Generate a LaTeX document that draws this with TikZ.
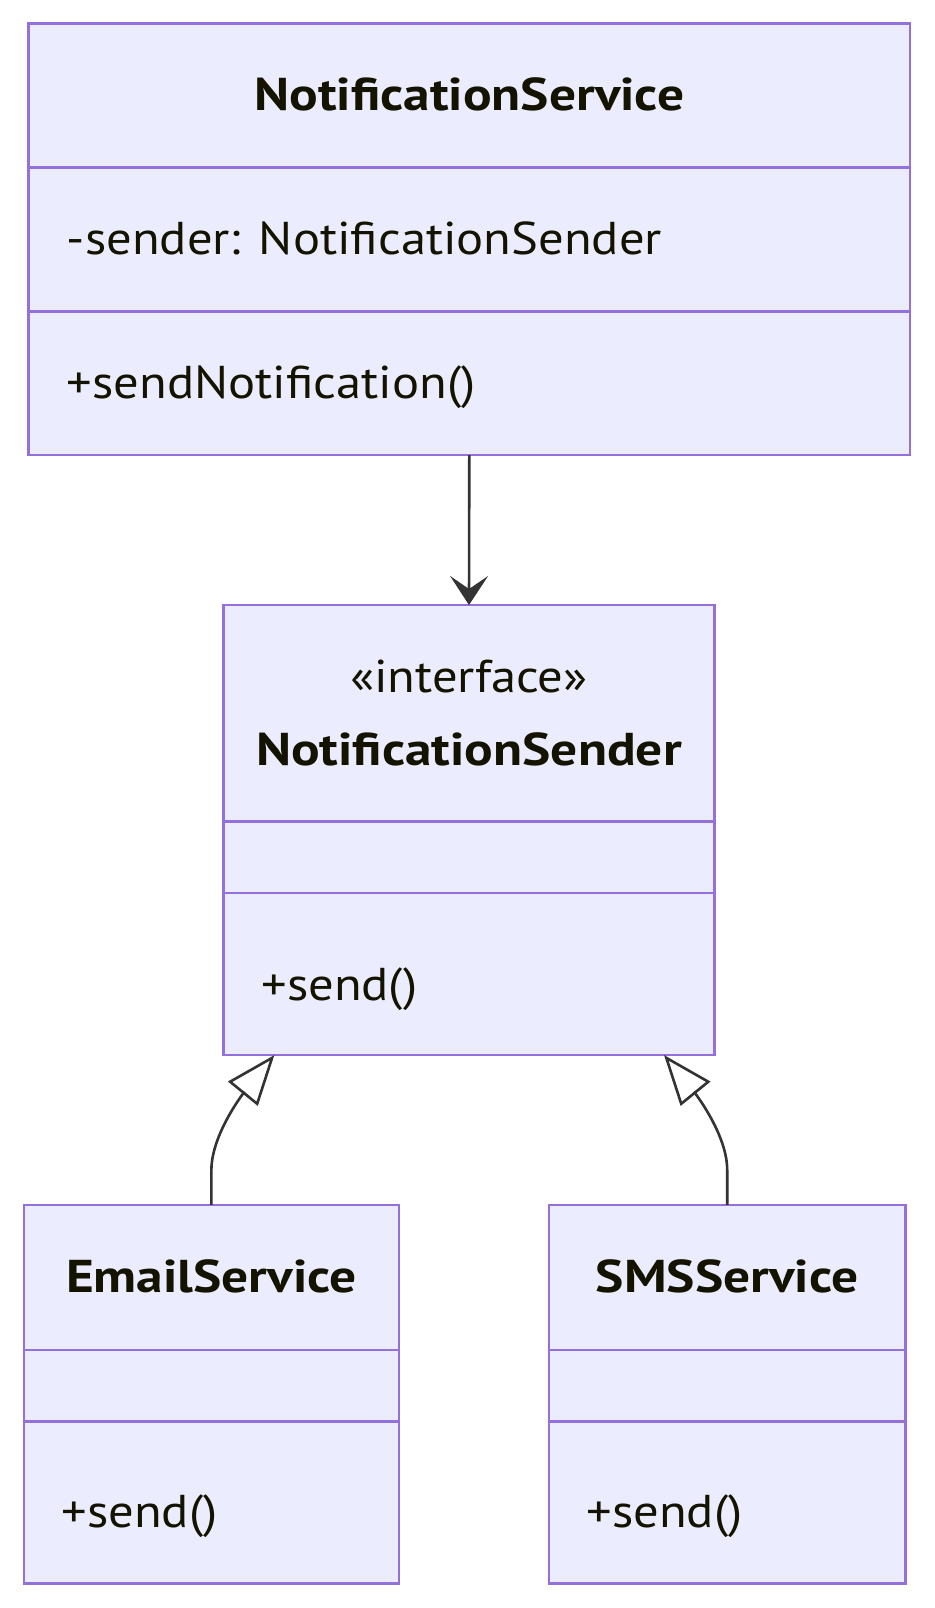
\documentclass[tikz,border=0pt]{standalone}
\usepackage{fontspec}
\setmainfont{PT Sans}[FakeStretch=1.1]
\newfontfamily\namefont{PT Sans}[FakeStretch=1.16]
\usetikzlibrary{arrows.meta,calc}
\definecolor{clsfill}{HTML}{ECECFF}
\definecolor{clsline}{HTML}{9370DB}
\definecolor{clstext}{HTML}{131300}
\definecolor{edgecol}{HTML}{333333}

\begin{document}
\begin{tikzpicture}[
  x=1pt, y=-1pt,
  cls/.style={draw=clsline, fill=clsfill, line width=2.6pt, inner sep=0pt, outer sep=0pt},
  divider/.style={draw=clsline, line width=2.6pt},
  clsname/.style={font=\fontsize{46}{55}\namefont\bfseries, text=clstext, inner sep=0pt, anchor=base},
  stereo/.style={font=\fontsize{46}{55}\selectfont, text=clstext, inner sep=0pt, anchor=base},
  member/.style={font=\fontsize{46}{55}\selectfont, text=clstext, inner sep=0pt, anchor=base west},
  assoc/.style={draw=edgecol, line width=2.6pt, -{Stealth[length=29pt,width=38pt,inset=13pt]}},
  inherit/.style={draw=edgecol, line width=2.6pt, -{Triangle[open,length=50pt,width=38pt]}}
]
\useasboundingbox (0,0) rectangle (934,1608);
\fill[white] (0,0) rectangle (934,1608);

% class boxes
\node[cls, minimum width=881.4pt, minimum height=431.7pt] (svc) at (469.3,239.2) {};
\node[cls, minimum width=491.2pt, minimum height=450pt] (snd) at (469,830) {};
\node[cls, minimum width=375.2pt, minimum height=378.5pt] (email) at (211.4,1394.2) {};
\node[cls, minimum width=356.3pt, minimum height=378.5pt] (sms) at (727.2,1394.2) {};

% compartments
\draw[divider] (svc.west |- 0,167.7) -- (svc.east |- 0,167.7);
\draw[divider] (svc.west |- 0,311.7) -- (svc.east |- 0,311.7);
\draw[divider] (snd.west |- 0,821.6) -- (snd.east |- 0,821.6);
\draw[divider] (snd.west |- 0,893) -- (snd.east |- 0,893);
\draw[divider] (email.west |- 0,1349.8) -- (email.east |- 0,1349.8);
\draw[divider] (email.west |- 0,1421.5) -- (email.east |- 0,1421.5);
\draw[divider] (sms.west |- 0,1349.8) -- (sms.east |- 0,1349.8);
\draw[divider] (sms.west |- 0,1421.5) -- (sms.east |- 0,1421.5);

% texts
\node[clsname] (svcName) at (469.3,111) {NotificationService};
\node[member] (svcAttr) at (66.7,254.3) {-sender: NotificationSender};
\node[member] (svcOp) at (66.7,398.5) {+sendNotification()};

\node[stereo] (sndStereo) at (469,692.7) {«interface»};
\node[clsname] (sndName) at (469,765) {NotificationSender};
\node[member] (sndOp) at (261.3,1000) {+send()};

\node[clsname] (emailName) at (211.4,1292) {EmailService};
\node[member] (emailOp) at (61.5,1527) {+send()};

\node[clsname] (smsName) at (727.2,1292) {SMSService};
\node[member] (smsOp) at (586.4,1527) {+send()};

% relations
\coordinate (tipE) at ([xshift=51pt]snd.south west);
\coordinate (tipS) at ([xshift=-50.6pt]snd.south east);
\draw[assoc] (svc.south) -- (snd.north);
\draw[inherit] (email.north) -- ++(0,-35) .. controls +(0,-40) and +(-22,27) .. (tipE);
\draw[inherit] (sms.north) -- ++(0,-35) .. controls +(0,-40) and +(22,27) .. (tipS);
\end{tikzpicture}
\end{document}
